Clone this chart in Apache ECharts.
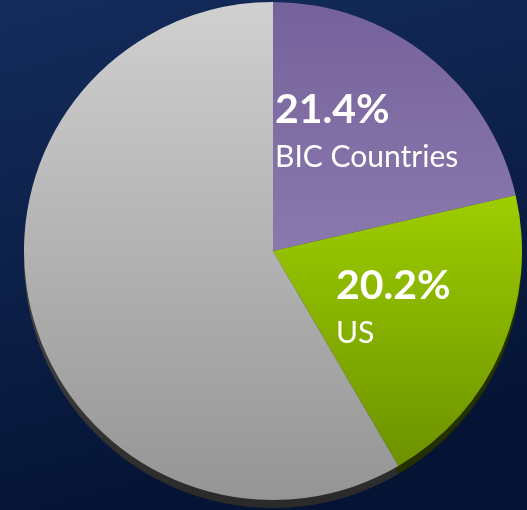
<!DOCTYPE html>
<html><head><meta charset="utf-8">
<script src="https://cdn.jsdelivr.net/npm/echarts@6/dist/echarts.min.js"></script>
<style>html,body{margin:0;padding:0;background:#0b1d45;}#c{width:527px;height:510px;}</style>
</head><body><div id="c"></div>
<script>
const categories = ['BIC Countries', 'US', 'Rest of World'];
const values = [21.4, 20.2, 58.4];
const showLabel = [true, true, false];

const chart = echarts.init(document.getElementById('c'), null, {renderer: 'canvas'});
const G = (stops) => new echarts.graphic.LinearGradient(0, 2, 0, 500, stops.map(s => ({offset: s[0], color: s[1]})), true);
const faceColors = [
  G([[0, '#76629b'], [0.5, '#8979ad'], [1, '#9a8cbc']]),
  G([[0, '#b8e000'], [0.4, '#9ccc00'], [0.95, '#6a9000'], [1, '#689000']]),
  G([[0, '#d0d0d0'], [1, '#959595']])
];
const sideColors = ['#3a3050', '#243000', G([[0, '#5a5a5a'], [0.5, '#4a4a4a'], [1, '#2a2a2a']])];
const labelPos = [[275, 86], [336, 262]];

chart.setOption({
  backgroundColor: {type: 'linear', x: 0, y: 0, x2: 0.25, y2: 1, colorStops: [{offset: 0, color: '#142c5c'}, {offset: 1, color: '#051435'}]},
  animation: false,
  series: [
    {
      type: 'pie', silent: true, center: [273, 259], radius: 249, startAngle: 90,
      label: {show: false}, labelLine: {show: false},
      data: categories.map((n, i) => ({name: n, value: values[i], itemStyle: {color: sideColors[i]}}))
    },
    {
      type: 'pie', center: [273, 251], radius: 249, startAngle: 90,
      itemStyle: {borderWidth: 0},
      labelLine: {show: false},
      label: {
        show: true, position: 'inside',
        formatter: p => showLabel[p.dataIndex] ? '{a|' + p.value.toFixed(1) + '%}\n{b|' + p.name + '}' : '',
        rich: {
          a: {fontFamily: 'Lato', fontWeight: 'bold', fontSize: 41, color: '#ffffff', lineHeight: 48},
          b: {fontFamily: 'Lato', fontSize: 30, color: '#ffffff', lineHeight: 46}
        }
      },
      labelLayout: p => {
        const pos = labelPos[p.dataIndex];
        if (!pos) return {};
        return {x: pos[0], y: pos[1], align: 'left', verticalAlign: 'top'};
      },
      data: categories.map((n, i) => ({name: n, value: values[i], itemStyle: {color: faceColors[i]}}))
    }
  ]
});
</script></body></html>
